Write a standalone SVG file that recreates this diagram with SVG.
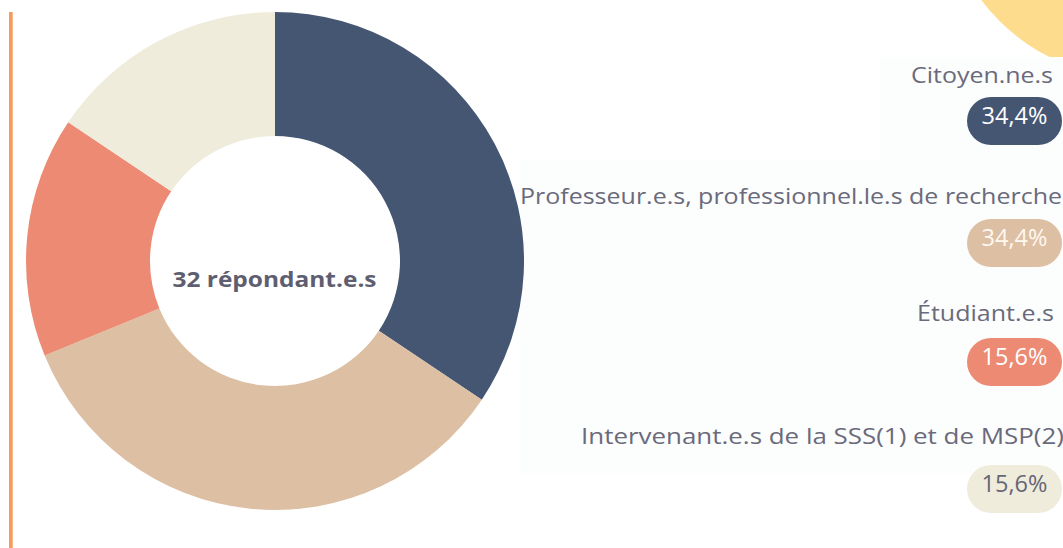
<svg xmlns="http://www.w3.org/2000/svg" width="1063" height="548" viewBox="0 0 1063 548">
<style>
.lbl{font-family:"Open Sans","Liberation Sans",sans-serif;font-weight:400;font-size:22.5px;fill:#6A6A7B;text-anchor:end}
.pct{font-family:"Open Sans","Liberation Sans",sans-serif;font-weight:400;font-size:23.5px;text-anchor:middle}
.ctr{font-family:"Open Sans","Liberation Sans",sans-serif;font-weight:700;font-size:22px;fill:#5E5E70;text-anchor:middle}
</style>
<rect width="1063" height="548" fill="#FFFFFF"/>
<circle cx="1135" cy="-115" r="192" fill="#FDDC8E"/>
<rect x="9" y="12" width="3.7" height="536" fill="#F79A5A"/>
<rect x="520" y="160" width="543" height="313" fill="#FCFDFD"/>
<rect x="880" y="57" width="183" height="103" fill="#FCFDFD"/>
<g id="donut">
<path id="slice-citoyens" d="M275,12 A249,249 0 0 1 481.80,399.70 L378.81,330.63 A125,125 0 0 0 275,136 Z" fill="#455673"/>
<path id="slice-professeurs" d="M481.80,399.70 A249,249 0 0 1 44.66,355.57 L159.37,308.47 A125,125 0 0 0 378.81,330.63 Z" fill="#DDBFA3"/>
<path id="slice-etudiants" d="M44.66,355.57 A249,249 0 0 1 68.20,122.30 L171.19,191.37 A125,125 0 0 0 159.37,308.47 Z" fill="#EC8A73"/>
<path id="slice-intervenants" d="M68.20,122.30 A249,249 0 0 1 275,12 L275,136 A125,125 0 0 0 171.19,191.37 Z" fill="#EFECDC"/>
<text class="ctr" x="274.5" y="287" textLength="204" lengthAdjust="spacingAndGlyphs">32 répondant.e.s</text>
</g>
<g id="legend-citoyens">
<text class="lbl" x="1053" y="83" textLength="142" lengthAdjust="spacingAndGlyphs">Citoyen.ne.s</text>
<rect x="967" y="97" width="95" height="48" rx="24" fill="#455673"/>
<text class="pct" x="1014.5" y="124" fill="#FFFFFF">34,4%</text>
</g>
<g id="legend-professeurs">
<text class="lbl" x="1062" y="204" textLength="542" lengthAdjust="spacingAndGlyphs">Professeur.e.s, professionnel.le.s de recherche</text>
<rect x="967" y="219" width="95" height="48" rx="24" fill="#DDBFA3"/>
<text class="pct" x="1014.5" y="246" fill="#FFF8F0">34,4%</text>
</g>
<g id="legend-etudiants">
<text class="lbl" x="1054" y="321" textLength="137" lengthAdjust="spacingAndGlyphs">Étudiant.e.s</text>
<rect x="967" y="338" width="95" height="48" rx="24" fill="#EC8A73"/>
<text class="pct" x="1014.5" y="365" fill="#FFFFFF">15,6%</text>
</g>
<g id="legend-intervenants">
<text class="lbl" x="1064" y="444" textLength="483" lengthAdjust="spacingAndGlyphs">Intervenant.e.s de la SSS(1) et de MSP(2)</text>
<rect x="967" y="465" width="95" height="48" rx="24" fill="#EFECDC"/>
<text class="pct" x="1014.5" y="492" fill="#666677">15,6%</text>
</g>
<g id="connectors"/>
</svg>
